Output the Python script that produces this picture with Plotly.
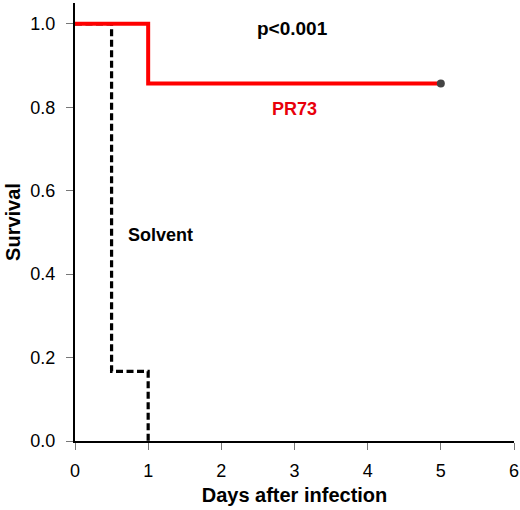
import plotly.graph_objects as go

# Kaplan-Meier steps (days, survival)
solvent_days = [0, 0.5, 0.5, 1, 1]
solvent_surv = [1.0, 1.0, 0.167, 0.167, 0.0]

pr73_days = [0, 1, 1, 5]
pr73_surv = [1.0, 1.0, 0.857, 0.857]

censor_days = [5]
censor_surv = [0.857]

x_ticks = [0, 1, 2, 3, 4, 5, 6]
y_ticks = [0.0, 0.2, 0.4, 0.6, 0.8, 1.0]

font_info = dict(family='Arial, Liberation Sans', color='black', size=18)

fig = go.Figure()

fig.add_trace(go.Scatter(
    x=solvent_days, y=solvent_surv, mode='lines',
    line=dict(color='black', width=3.2, dash='7px,3.5px'),
    hoverinfo='skip'
))

fig.add_trace(go.Scatter(
    x=pr73_days, y=pr73_surv, mode='lines',
    line=dict(color='#ff0000', width=4),
    hoverinfo='skip'
))

fig.add_trace(go.Scatter(
    x=censor_days, y=censor_surv, mode='markers',
    marker=dict(color='#444444', size=8),
    hoverinfo='skip'
))

fig.add_annotation(x=2.97, y=0.99, text='<b>p<0.001</b>', showarrow=False,
                   font=dict(family='Arial, Liberation Sans', size=19, color='black'))
fig.add_annotation(x=3.0, y=0.795, text='<b>PR73</b>', showarrow=False,
                   font=dict(family='Arial, Liberation Sans', size=18, color='#e8000b'))
fig.add_annotation(x=1.17, y=0.495, text='<b>Solvent</b>', showarrow=False,
                   font=dict(family='Arial, Liberation Sans', size=18, color='black'))

fig.update_xaxes(
    range=[0, 6],
    tickvals=x_ticks,
    ticktext=[str(v) for v in x_ticks],
    showline=True, linecolor='black', linewidth=2,
    ticks='outside', ticklen=7, tickcolor='#777777', tickwidth=1,
    showgrid=False, zeroline=False, automargin=False,
    tickfont=font_info, ticklabelstandoff=5,
    title_text='<b>Days after infection</b>',
    title_font=dict(family='Arial, Liberation Sans', size=20, color='black'),
    title_standoff=8
)

fig.update_yaxes(
    range=[0, 1.05],
    tickvals=y_ticks,
    ticktext=['%.1f' % v for v in y_ticks],
    showline=True, linecolor='black', linewidth=2,
    ticks='outside', ticklen=7, tickcolor='#777777', tickwidth=1,
    showgrid=False, zeroline=False, automargin=False,
    tickfont=font_info, ticklabelstandoff=7,
    title_text='<b>Survival</b>',
    title_font=dict(family='Arial, Liberation Sans', size=20, color='black'),
    title_standoff=4
)

fig.update_layout(
    width=520, height=510,
    margin=dict(l=75, r=6, t=3, b=69),
    showlegend=False,
    plot_bgcolor='white',
    paper_bgcolor='white'
)

# page body has a default 8px margin; drop it so the figure fills the window
fig.write_html("out.html", config={'displayModeBar': False},
               post_script="document.body.style.margin='0';")
